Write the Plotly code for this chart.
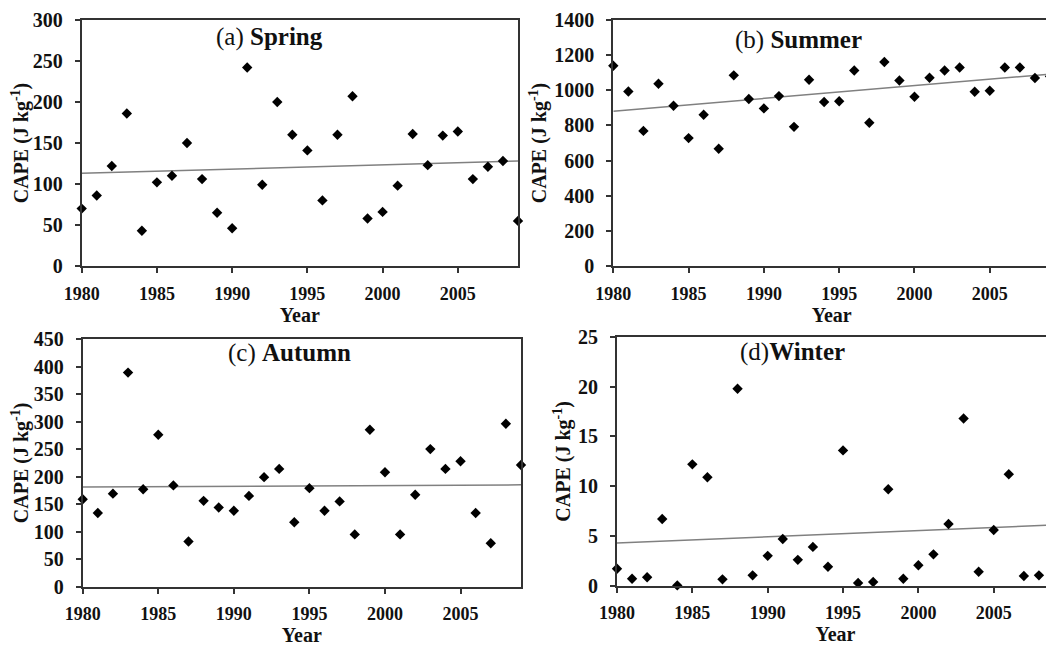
import plotly.graph_objects as go

W, H = 1054, 646
OFF = 8  # page body margin of the browser

years = list(range(1980, 2010))

spring = [70, 86, 122, 186, 43, 102, 110, 150, 106, 65, 46, 242, 99,
          200, 160, 141, 80, 160, 207, 58, 66, 98, 161, 123, 159, 164, 106, 121, 128, 55]
summer = [1140, 993, 769, 1037, 912, 728, 861, 667, 1085, 950, 897, 967, 792,
          1060, 933, 938, 1113, 815, 1161, 1056, 963, 1071, 1113, 1130, 992, 997, 1130, 1130, 1070, 1079]
autumn = [159, 134, 169, 389, 177, 276, 184, 82, 156, 144, 138, 165, 199,
          214, 117, 179, 138, 155, 95, 285, 208, 95, 167, 250, 214, 228, 134, 79, 296, 221]
winter = [1.7, 0.7, 0.85, 6.7, 0.03, 12.2, 10.9, 0.64, 19.8, 1.04, 3.0, 4.7, 2.6,
          3.9, 1.9, 13.6, 0.27, 0.37, 9.7, 0.7, 2.05, 3.15, 6.2, 16.8, 1.4, 5.6, 11.2, 0.97, 1.04, 11.2]

trend_years = [1980, 2009]
spring_trend = [113, 128]
summer_trend = [881, 1092]
autumn_trend = [181, 185]
winter_trend = [4.3, 6.1]

labels = [("(a) ", "Spring"), ("(b) ", "Summer"), ("(c) ", "Autumn"), ("(d)", "Winter")]
y_ranges = [(0, 300, 50), (0, 1400, 200), (0, 450, 50), (0, 25, 5)]

# window-pixel boxes: left, right, top, bottom
boxes = [(81.7, 518, 20, 266), (613.3, 1050, 20, 266),
         (82.7, 521, 339, 586.7), (617, 1054, 337, 585.7)]
label_pos = [(269, 37), (798, 40), (289, 353), (792, 352)]

series = [spring, summer, autumn, winter]
trends = [spring_trend, summer_trend, autumn_trend, winter_trend]

FONT = "Liberation Serif"
AX = "#333333"

fig = go.Figure()
layout = dict(width=W, height=H, margin=dict(l=0, r=0, t=0, b=0, autoexpand=False),
              paper_bgcolor="white", plot_bgcolor="white", showlegend=False,
              annotations=[])

for i in range(4):
    n = "" if i == 0 else str(i + 1)
    xa, ya = "x" + n, "y" + n
    fig.add_trace(go.Scatter(x=trend_years, y=trends[i], mode="lines",
                             line=dict(color="#808080", width=1.5),
                             xaxis=xa, yaxis=ya, hoverinfo="skip"))
    fig.add_trace(go.Scatter(x=years, y=series[i], mode="markers",
                             marker=dict(symbol="diamond", size=8, color="black"),
                             cliponaxis=False, xaxis=xa, yaxis=ya))
    l, r, t, b = [v - OFF for v in boxes[i]]
    y0, y1, dy = y_ranges[i]
    layout["xaxis" + n] = dict(
        domain=[l / W, min(r / W, 1.0)], range=[1980, 2009], anchor=ya,
        automargin=False, ticklabelstandoff=5,
        tickmode="array", tickvals=[1980, 1985, 1990, 1995, 2000, 2005],
        ticks="outside", ticklen=5, tickwidth=1.5, tickcolor=AX,
        showline=True, linecolor=AX, linewidth=2, mirror=True,
        showgrid=False, zeroline=False,
        tickfont=dict(family=FONT, size=18, color="#111", weight="bold"),
        title=dict(text="Year", standoff=1,
                   font=dict(family=FONT, size=20, color="#111", weight="bold")))
    layout["yaxis" + n] = dict(
        domain=[1 - b / H, 1 - t / H], range=[y0, y1], dtick=dy, anchor=xa,
        automargin=False, ticklabelstandoff=8,
        ticks="outside", ticklen=5, tickwidth=1.5, tickcolor=AX,
        showline=True, linecolor=AX, linewidth=2, mirror=True,
        showgrid=False, zeroline=False,
        tickfont=dict(family=FONT, size=20, color="#111", weight="bold"),
        title=dict(text="CAPE (J kg<sup>-1</sup>)", standoff=2,
                   font=dict(family=FONT, size=20, color="#111", weight="bold")))
    lx, ly = label_pos[i]
    layout["annotations"].append(dict(
        x=(lx - OFF) / W, y=1 - (ly - OFF) / H, xref="paper", yref="paper",
        text=labels[i][0] + "<b>" + labels[i][1] + "</b>", showarrow=False,
        xanchor="center", yanchor="middle",
        font=dict(family=FONT, size=25, color="#111")))

fig.update_layout(**layout)
fig.write_html("out.html")
